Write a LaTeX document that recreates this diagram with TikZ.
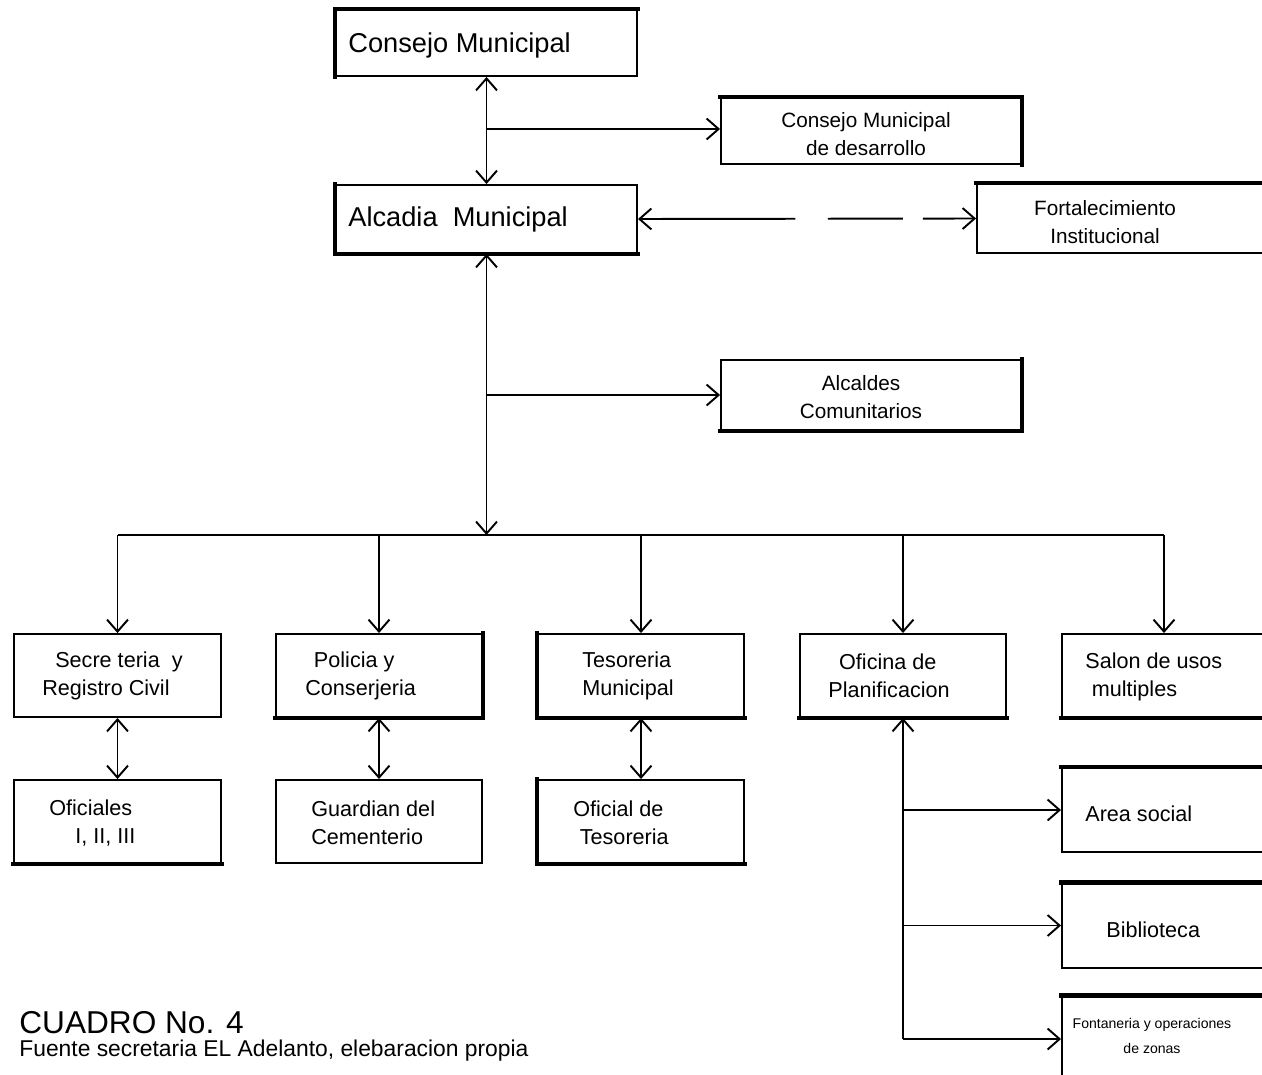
\documentclass[tikz,border=0pt]{standalone}
\usepackage{fontspec}
\setmainfont{Liberation Sans}
\usetikzlibrary{arrows.meta,fit}
\tikzset{
  box/.style={draw, line width=1.1pt, inner sep=0pt},
  thk/.style={line width=2.8pt, line cap=rect},
  conn/.style={line width=1.1pt},
  lbl/.style={font=\fontsize{12.3}{16}\selectfont, align=left, anchor=west, inner sep=0pt},
  clbl/.style={font=\fontsize{11.8}{16}\selectfont, align=center, inner sep=0pt},
  big/.style={font=\fontsize{15.5}{20}\selectfont, anchor=west, inner sep=0pt},
  >={Straight Barb[length=0.24cm,width=0.42cm]}
}
\begin{document}
\begin{tikzpicture}[x=0.02cm,y=-0.02cm]
\useasboundingbox[fill=white] (0,0) rectangle (1262,1075);
% boxes
\node[box, fit={(336,10) (637,76)}] (cm) {};
\node[box, fit={(721,98) (1021,164)}] (cmd) {};
\node[box, fit={(336,185) (637,253)}] (am) {};
\node[box, fit={(977,184) (1272,253)}] (fi) {};
\node[box, fit={(721,360) (1021,430)}] (ac) {};
\node[box, fit={(14,634) (221,717)}] (sec) {};
\node[box, fit={(276,634) (482,717)}] (pol) {};
\node[box, fit={(538,634) (744,717)}] (tes) {};
\node[box, fit={(800,634) (1006,717)}] (pl) {};
\node[box, fit={(1062,634) (1266,717)}] (sal) {};
\node[box, fit={(14,780) (221,863)}] (ofi) {};
\node[box, fit={(276,780) (482,863)}] (gua) {};
\node[box, fit={(538,780) (744,863)}] (oft) {};
\node[box, fit={(1062,768) (1272,852)}] (as) {};
\node[box, fit={(1062,883) (1272,968)}] (bib) {};
\node[box, fit={(1062,996) (1272,1082)}] (fon) {};
% thick edges
\draw[thk] (cm.south west) -- (cm.north west) -- (cm.north east);
\draw[thk] (cmd.north west) -- (cmd.north east) -- (cmd.south east);
\draw[thk] (am.north west) -- (am.south west) -- (am.south east);
\draw[thk] (fi.north west) -- (fi.north east);
\draw[thk] (ac.north east) -- (ac.south east) -- (ac.south west);
\draw[thk] (pol.north east) -- (pol.south east) -- (pol.south west);
\draw[thk] (tes.north west) -- (tes.south west) -- (tes.south east);
\draw[thk] (pl.south west) -- (pl.south east);
\draw[thk] (sal.south west) -- (sal.south east);
\draw[thk] (ofi.south west) -- (ofi.south east);
\draw[thk] (oft.north west) -- (oft.south west) -- (oft.south east);
\draw[thk] (as.north west) -- (as.north east);
\draw[thk] (bib.north west) -- (bib.north east);
\draw[thk] (fon.north west) -- (fon.north east);
% texts
\node[big] (t1) at (348,45) {Consejo Municipal};
\node[big] (t2) at (348,219) {Alcadia\ \ Municipal};
\node[clbl] (t3) at (866,134) {Consejo Municipal\\de desarrollo};
\node[clbl] (t4) at (1105,222) {Fortalecimiento\\Institucional};
\node[clbl] (t5) at (861,397) {Alcaldes\\Comunitarios};
\node[lbl] (t6) at (42,676) {\hspace*{0.6em}Secre teria\ \ y\\Registro Civil};
\node[lbl] (t7) at (305,676) {\hspace*{0.4em}Policia y\\Conserjeria};
\node[lbl] (t8) at (582,676) {Tesoreria\\Municipal};
\node[lbl] (t9) at (828,676) {\hspace*{0.5em}Oficina de\\Planificacion};
\node[lbl] (t10) at (1085,677) {Salon de usos\\\hspace*{0.3em}multiples};
\node[lbl] (t11) at (49,823) {Oficiales\\\hspace*{1.2em}I, II, III};
\node[lbl] (t12) at (311,823) {Guardian del\\Cementerio};
\node[lbl] (t13) at (573,823) {Oficial de\\\hspace*{0.3em}Tesoreria};
\node[lbl] (t14) at (1085,814) {Area social};
\node[lbl] (t15) at (1106,930) {Biblioteca};
\node[font=\fontsize{8}{14}\selectfont, align=center, inner sep=0pt] (t16) at (1152,1036) {Fontaneria y operaciones\\de zonas};
\node[font=\fontsize{18}{22}\selectfont, anchor=base west, inner sep=0pt] (t17) at (19,1033) {CUADRO No. 4};
\node[font=\fontsize{13}{15}\selectfont, anchor=base west, inner sep=0pt] (t18) at (19,1056) {Fuente secretaria EL Adelanto, elebaracion propia};
% connectors
\coordinate (j1) at (486.5,129);
\coordinate (j2) at (486.5,395);
\coordinate (bus) at (486.5,535);
\draw[conn,<->] (cm.south) -- (am.north);
\draw[conn,->] (j1) -- (j1 -| cmd.west);
\draw[conn,<->,dash pattern=on 3.1cm off 0.65cm on 1.5cm off 0.4cm] (am.east) -- (fi.west);
\draw[conn,<->] (am.south) -- (bus);
\draw[conn,->] (j2) -- (j2 -| ac.west);
\draw[conn] (sec.north |- bus) -- (sal.north |- bus);
\foreach \n in {sec,pol,tes,pl,sal} \draw[conn,->] (\n.north |- bus) -- (\n.north);
\draw[conn,<->] (sec.south) -- (ofi.north);
\draw[conn,<->] (pol.south) -- (gua.north);
\draw[conn,<->] (tes.south) -- (oft.north);
\draw[conn,<-] (pl.south) -- (pl.south |- fon.west);
\draw[conn,->] (pl.south |- as.west) -- (as.west);
\draw[conn,->] (pl.south |- bib.west) -- (bib.west);
\draw[conn,->] (pl.south |- fon.west) -- (fon.west);
\end{tikzpicture}
\end{document}
